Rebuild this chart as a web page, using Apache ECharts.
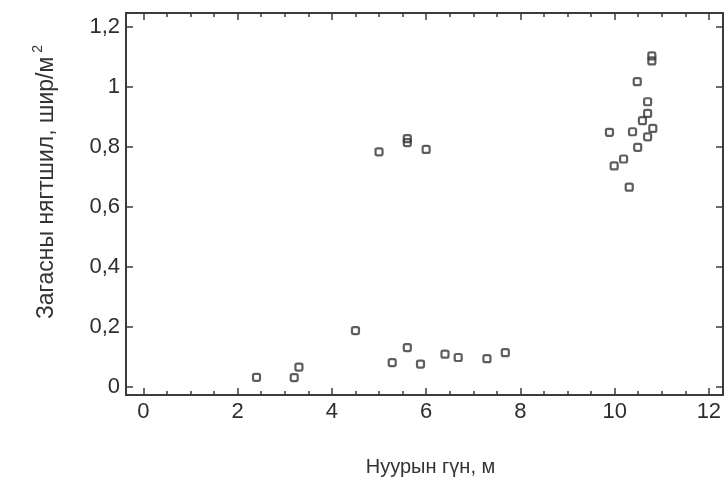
<!DOCTYPE html>
<html>
<head>
<meta charset="utf-8">
<script src="https://cdn.jsdelivr.net/npm/echarts@6/dist/echarts.min.js"></script>
<style>
html,body{margin:0;padding:0;background:#fff;}
#c{width:726px;height:484px;}
</style>
</head>
<body>
<div id="c"></div>
<script>
// Depth of lake (m) and fish density (ind/m2)
const depth = [2.4, 3.2, 3.3, 4.5, 5.28, 5.6, 5.88, 6.4, 6.68, 7.29, 7.68,
               5.0, 5.6, 5.6, 6.0,
               10.79, 10.79, 10.48, 10.7, 10.7, 10.59, 9.89, 10.38, 10.81, 10.7, 10.49, 10.19, 9.99, 10.31];
const density = [0.032, 0.031, 0.066, 0.188, 0.081, 0.131, 0.076, 0.109, 0.098, 0.094, 0.114,
                 0.784, 0.815, 0.828, 0.792,
                 1.104, 1.087, 1.018, 0.951, 0.912, 0.888, 0.849, 0.851, 0.862, 0.834, 0.799, 0.76, 0.737, 0.666];
const xTicks = [0, 2, 4, 6, 8, 10, 12];
const xMinorTicks = [0.5, 1, 1.5, 2.5, 3, 3.5, 4.5, 5, 5.5, 6.5, 7, 7.5, 8.5, 9, 9.5, 10.5, 11, 11.5];
const yTicks = [0, 0.2, 0.4, 0.6, 0.8, 1, 1.2];
const xName = 'Нуурын гүн, м';
const yName = 'Загасны нягтшил, шир/м{sup|2}';

const points = depth.map((d, i) => [d, density[i]]);
const X_MIN = -0.37, X_MAX = 12.3, Y_MIN = -0.027, Y_MAX = 1.247;
const LINE = '#3b3b3b';
const FONT = 'Liberation Sans, Arial, sans-serif';
const fmt = v => String(+v.toFixed(2)).replace('.', ',');

function xAx(pos, ticks, len, show) {
  return {
    type: 'value', position: pos, min: X_MIN, max: X_MAX,
    splitLine: {show: false},
    axisLine: {show: show, onZero: false, lineStyle: {color: LINE, width: 2}},
    axisTick: {show: true, inside: true, length: len, customValues: ticks, lineStyle: {color: LINE, width: 1.5}},
    axisLabel: {show: false}
  };
}
function yAx(pos, show) {
  return {
    type: 'value', position: pos, min: Y_MIN, max: Y_MAX,
    splitLine: {show: false},
    axisLine: {show: show, onZero: false, lineStyle: {color: LINE, width: 2}},
    axisTick: {show: true, inside: true, length: 7, customValues: yTicks, lineStyle: {color: LINE, width: 1.5}},
    axisLabel: {show: false}
  };
}

const xBottom = xAx('bottom', xTicks, 7, true);
xBottom.axisLabel = {show: true, customValues: xTicks, margin: 6, color: '#2e2e2e', fontSize: 22, fontFamily: FONT, formatter: fmt};
xBottom.name = xName;
xBottom.nameLocation = 'middle';
xBottom.nameGap = 62;
xBottom.nameTextStyle = {color: '#333', fontSize: 20, fontFamily: FONT, padding: [0, 0, 0, 12]};

const yLeft = yAx('left', true);
yLeft.axisLabel = {show: true, customValues: yTicks, margin: 6, color: '#2e2e2e', fontSize: 22, fontFamily: FONT, formatter: fmt};
yLeft.name = yName;
yLeft.nameLocation = 'middle';
yLeft.nameGap = 63;
yLeft.nameTextStyle = {color: '#333', fontSize: 23, fontFamily: FONT, padding: [0, 0, 0, 44],
  rich: {sup: {fontSize: 14, fontFamily: FONT, color: '#333', padding: [0, 0, 18, 4]}}};

const chart = echarts.init(document.getElementById('c'), null, {renderer: 'canvas'});
chart.setOption({
  animation: false,
  backgroundColor: '#fff',
  grid: {left: 126, right: 3, top: 13, bottom: 89, containLabel: false},
  xAxis: [xBottom, xAx('bottom', xMinorTicks, 4, false), xAx('top', xTicks, 7, true), xAx('top', xMinorTicks, 4, false)],
  yAxis: [yLeft, yAx('right', true)],
  series: [{
    type: 'scatter',
    xAxisIndex: 0, yAxisIndex: 0,
    data: points,
    symbol: 'roundRect',
    symbolSize: 7,
    itemStyle: {color: 'rgba(255,255,255,0)', borderColor: '#363636', borderWidth: 2.2},
    emphasis: {disabled: true}
  }]
});
</script>
</body>
</html>
